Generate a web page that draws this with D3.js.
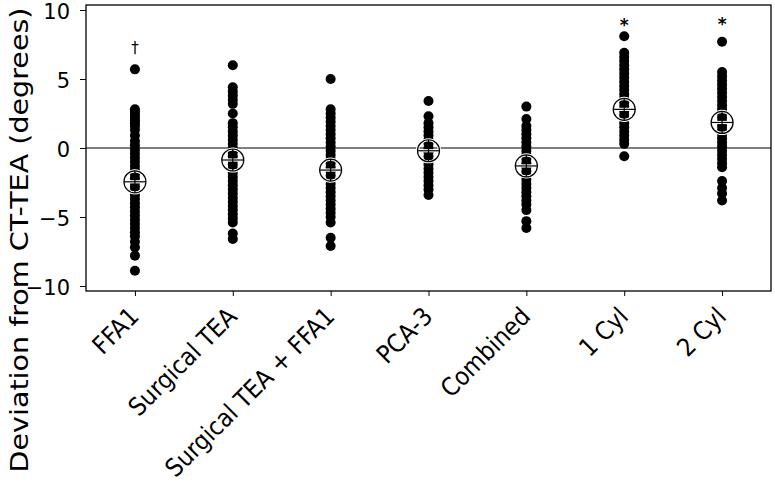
<!DOCTYPE html>
<html>
<head>
<meta charset="utf-8">
<script src="https://cdn.jsdelivr.net/npm/d3@7"></script>
<style>
  body { margin: 0; background: #fff; }
</style>
</head>
<body>
<div id="chart"></div>
<script>
const categories = ["FFA1", "Surgical TEA", "Surgical TEA + FFA1", "PCA-3", "Combined", "1 Cyl", "2 Cyl"];

// deviation values, one list per method
const ffa1 = [5.7, 2.8, 2.6, 2.4, 2.2, 2.0, 1.8, 1.6, 1.3, 0.9, 0.5, 0.2, -0.1, -0.4, -0.7, -1.0, -1.3, -1.6, -1.9, -2.2, -2.5, -2.8, -3.1, -3.4, -3.7, -4.0, -4.3, -4.6, -4.9, -5.2, -5.5, -5.8, -6.1, -6.4, -6.8, -7.2, -7.8, -8.9];
const surgicalTea = [6.0, 4.4, 4.1, 3.8, 3.5, 3.2, 2.5, 1.8, 1.5, 1.2, 0.9, 0.6, 0.3, 0.0, -0.3, -0.6, -0.9, -1.2, -1.5, -1.8, -2.1, -2.4, -2.7, -3.0, -3.3, -3.6, -3.9, -4.2, -4.5, -4.8, -5.1, -5.4, -6.2, -6.6];
const surgicalFfa1 = [5.0, 2.8, 2.5, 2.2, 1.9, 1.6, 1.3, 1.0, 0.7, 0.4, 0.1, -0.2, -0.5, -0.8, -1.1, -1.4, -1.7, -2.0, -2.3, -2.6, -2.9, -3.2, -3.5, -3.8, -4.1, -4.4, -4.7, -5.0, -5.4, -6.5, -7.1];
const pca3 = [3.4, 2.3, 1.8, 1.5, 1.2, 0.9, 0.6, 0.3, 0.0, -0.3, -0.6, -0.9, -1.2, -1.5, -1.8, -2.1, -2.4, -2.7, -3.0, -3.4];
const combined = [3.0, 2.1, 1.6, 1.3, 1.0, 0.7, 0.4, 0.1, -0.2, -0.5, -0.8, -1.1, -1.4, -1.7, -2.0, -2.3, -2.6, -2.9, -3.2, -3.5, -3.8, -4.1, -4.5, -5.3, -5.8];
const cyl1 = [8.1, 6.9, 6.6, 6.3, 6.0, 5.7, 5.4, 5.1, 4.8, 4.5, 4.2, 3.9, 3.6, 3.3, 3.0, 2.7, 2.4, 2.1, 1.8, 1.5, 1.2, 0.9, 0.6, 0.3, -0.6];
const cyl2 = [7.7, 5.5, 5.2, 4.9, 4.6, 4.3, 4.0, 3.7, 3.4, 3.1, 2.8, 2.5, 2.2, 1.9, 1.6, 1.3, 1.0, 0.7, 0.4, 0.1, -0.2, -0.5, -0.8, -1.1, -1.4, -2.4, -2.9, -3.3, -3.8];

const means = [-2.45, -0.87, -1.6, -0.2, -1.3, 2.8, 1.85];
const marks = ["†", "", "", "", "", "*", "*"];
const markValues = [7.3, null, null, null, null, 9.35, 9.4];
const yTicks = [10, 5, 0, -5, -10];

const series = [ffa1, surgicalTea, surgicalFfa1, pca3, combined, cyl1, cyl2];

const FONT = "DejaVu Sans, Verdana, sans-serif";
const FONT_NARROW = "DejaVu Sans Condensed, DejaVu Sans, sans-serif";
const width = 775, height = 482;
const margin = { top: 5, right: 4, bottom: 191, left: 86 };
const plotW = width - margin.left - margin.right;
const plotH = height - margin.top - margin.bottom;

const svg = d3.select("#chart").append("svg")
    .attr("width", width)
    .attr("height", height)
    .attr("font-family", FONT);

const g = svg.append("g")
    .attr("transform", `translate(${margin.left},${margin.top})`);

const x = d3.scalePoint()
    .domain(categories)
    .range([0, plotW])
    .padding(0.5);

const y = d3.scaleLinear()
    .domain([-10, 10])
    .range([281, 5]);

// frame
g.append("rect")
    .attr("width", plotW)
    .attr("height", plotH)
    .attr("fill", "none")
    .attr("stroke", "#000")
    .attr("stroke-width", 1.3);

// zero line
g.append("line")
    .attr("x1", 0).attr("x2", plotW)
    .attr("y1", y(0)).attr("y2", y(0))
    .attr("stroke", "#000")
    .attr("stroke-width", 1.2);

// axes
const yAxis = g.append("g")
    .call(d3.axisLeft(y).tickValues(yTicks).tickSize(6).tickPadding(10));
yAxis.select(".domain").remove();
yAxis.attr("font-family", FONT);
yAxis.selectAll("text").attr("font-size", 21).attr("fill", "#000").attr("dy", "0.42em");

const xAxis = g.append("g")
    .attr("transform", `translate(0,${plotH})`)
    .call(d3.axisBottom(x).tickSize(5));
xAxis.select(".domain").remove();
xAxis.attr("font-family", FONT_NARROW);
xAxis.selectAll("text")
    .attr("font-size", 25)
    .attr("fill", "#000")
    .attr("text-anchor", "end")
    .attr("y", 0)
    .attr("dy", 0)
    .attr("transform", "translate(5,27) rotate(-45)");

// dots
series.forEach((vals, i) => {
    g.append("g").selectAll("circle")
        .data(vals)
        .join("circle")
        .attr("cx", x(categories[i]))
        .attr("cy", d => y(d))
        .attr("r", 5)
        .attr("fill", "#000");
});

// mean markers: open circle with cross, white halo
const meanG = g.append("g").selectAll("g")
    .data(means)
    .join("g")
    .attr("transform", (d, i) => `translate(${x(categories[i])},${y(d)})`);

meanG.append("circle")
    .attr("r", 11)
    .attr("fill", "none")
    .attr("stroke", "#fff")
    .attr("stroke-width", 3.2);
meanG.append("line")
    .attr("x1", -11).attr("x2", 11)
    .attr("stroke", "#fff")
    .attr("stroke-width", 3.2);
meanG.append("circle")
    .attr("r", 11)
    .attr("fill", "none")
    .attr("stroke", "#000")
    .attr("stroke-width", 1.2);
meanG.append("line")
    .attr("x1", -11).attr("x2", 11)
    .attr("stroke", "#000")
    .attr("stroke-width", 1.2);
meanG.append("line")
    .attr("y1", -11).attr("y2", 11)
    .attr("stroke", "#000")
    .attr("stroke-width", 1.2);

// significance marks
const markData = marks.map((m, i) => ({ m, cat: categories[i], v: markValues[i] }))
    .filter(d => d.m !== "");
g.append("g").selectAll("text")
    .data(markData)
    .join("text")
    .attr("x", d => x(d.cat))
    .attr("y", d => y(d.v))
    .attr("text-anchor", "middle")
    .attr("dy", d => d.m === "*" ? "0.7em" : "0.35em")
    .attr("font-size", d => d.m === "*" ? 17 : 15)
    .attr("font-weight", d => d.m === "*" ? "bold" : "normal")
    .text(d => d.m);

// y label
svg.append("text")
    .attr("transform", `translate(28,240) rotate(-90)`)
    .attr("text-anchor", "middle")
    .attr("font-size", 24)
    .attr("textLength", 465)
    .attr("lengthAdjust", "spacingAndGlyphs")
    .attr("fill", "#000")
    .text("Deviation from CT-TEA (degrees)");
</script>
</body>
</html>
